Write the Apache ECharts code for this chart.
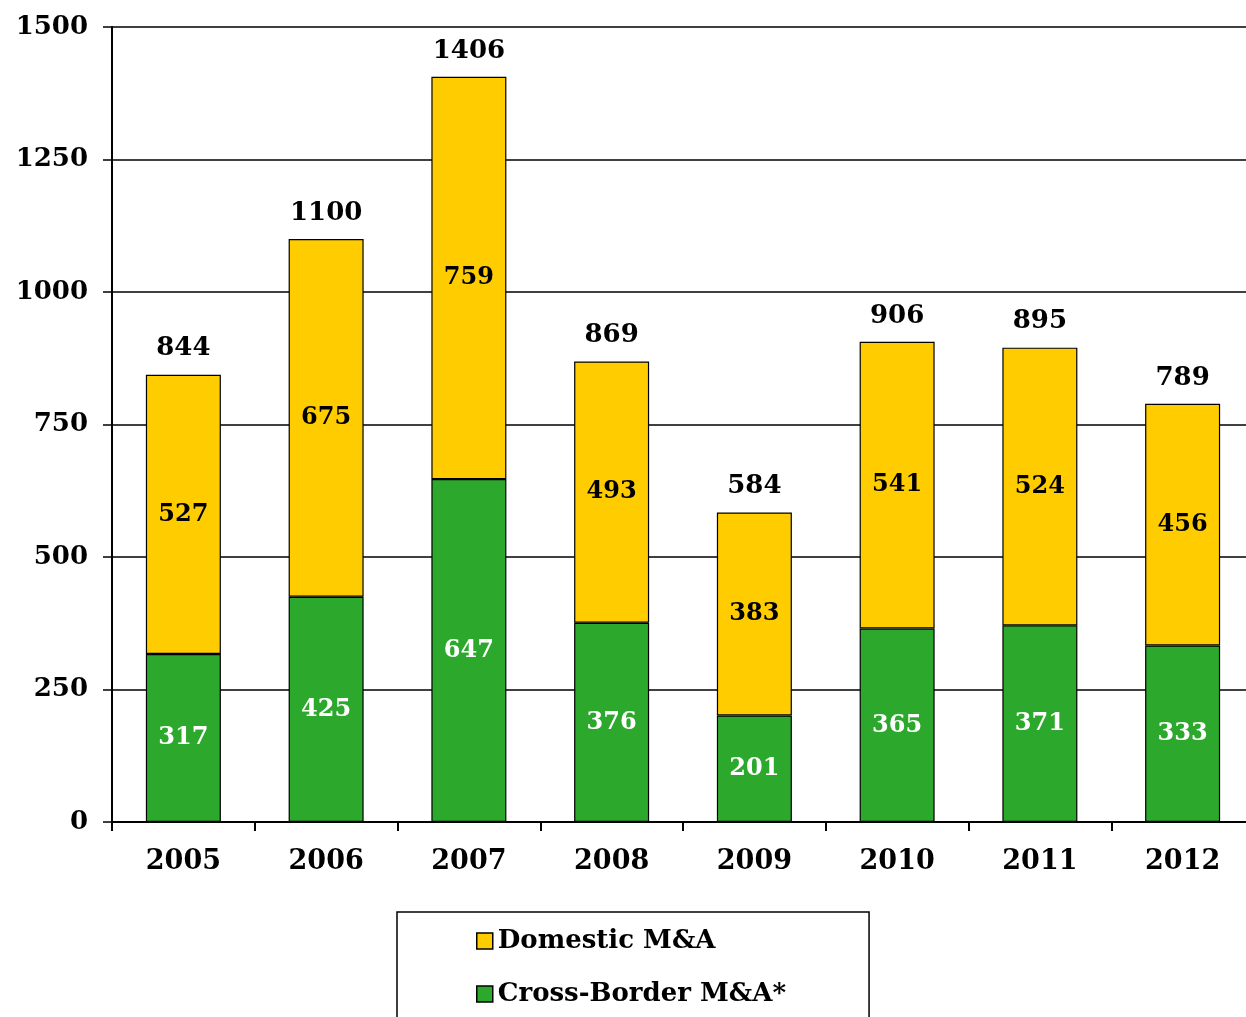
<!DOCTYPE html>
<html>
<head>
<meta charset="utf-8">
<script src="https://cdn.jsdelivr.net/npm/echarts@6/dist/echarts.min.js"></script>
<style>
  html, body { margin: 0; padding: 0; background: #fff; }
  #chart { width: 1246px; height: 1017px; }
</style>
</head>
<body>
<div id="chart"></div>
<script>
// M&A deal counts per year
const years = ['2005', '2006', '2007', '2008', '2009', '2010', '2011', '2012'];
const crossBorder = [317, 425, 647, 376, 201, 365, 371, 333];
const domestic = [527, 675, 759, 493, 383, 541, 524, 456];
const totals = years.map((_, i) => crossBorder[i] + domestic[i]);

const FONT = '"DejaVu Serif", serif';
const chart = echarts.init(document.getElementById('chart'));

chart.setOption({
  animation: false,
  backgroundColor: '#ffffff',
  // plot area runs slightly past the right edge of the canvas
  grid: { left: 112, width: 1142, top: 27, bottom: 195, outerBoundsMode: 'none', containLabel: false },
  legend: {
    orient: 'vertical',
    left: 397,
    top: 912,
    height: 200,
    padding: [14, 83, 30, 79],
    itemGap: 23,
    itemWidth: 16,
    itemHeight: 16,
    icon: 'rect',
    borderColor: '#000',
    borderWidth: 1.5,
    textStyle: { fontFamily: FONT, fontWeight: 'bold', fontSize: 26, color: '#000', lineHeight: 30 },
    data: [
      { name: 'Domestic M&A', itemStyle: { borderColor: '#000', borderWidth: 1.5 } },
      { name: 'Cross-Border M&A*', itemStyle: { borderColor: '#000', borderWidth: 1.5 } }
    ]
  },
  xAxis: {
    type: 'category',
    data: years,
    axisLine: { lineStyle: { color: '#000', width: 2 } },
    axisTick: { show: true, length: 9, lineStyle: { color: '#000', width: 2 } },
    axisLabel: { margin: 26, fontFamily: FONT, fontWeight: 'bold', fontSize: 27, color: '#000' }
  },
  yAxis: {
    type: 'value',
    min: 0,
    max: 1500,
    interval: 250,
    axisLine: { show: true, lineStyle: { color: '#000', width: 2 } },
    axisTick: { show: true, length: 9, lineStyle: { color: '#000', width: 1.5 } },
    axisLabel: {
      margin: 24, fontFamily: FONT, fontWeight: 'bold', fontSize: 26, color: '#000',
      formatter: v => String(v)
    },
    splitLine: { lineStyle: { color: '#000', width: 1.5 } }
  },
  series: [
    {
      name: 'Cross-Border M&A*',
      type: 'bar',
      stack: 'deals',
      barWidth: 75,
      data: crossBorder,
      itemStyle: { color: '#2CA82C', borderColor: '#000', borderWidth: 1.2 },
      label: {
        show: true, position: 'inside',
        fontFamily: FONT, fontWeight: 'bold', fontSize: 24, color: '#fff'
      }
    },
    {
      name: 'Domestic M&A',
      type: 'bar',
      stack: 'deals',
      barWidth: 75,
      data: domestic,
      itemStyle: { color: '#FFCC00', borderColor: '#000', borderWidth: 1.2 },
      label: {
        show: true, position: 'inside',
        fontFamily: FONT, fontWeight: 'bold', fontSize: 24, color: '#000'
      }
    },
    {
      // yearly totals, shown as labels above each stacked bar
      name: 'Total',
      type: 'line',
      data: totals,
      symbol: 'circle',
      symbolSize: 2,
      showSymbol: true,
      itemStyle: { color: 'rgba(0,0,0,0)', borderWidth: 0 },
      lineStyle: { width: 0, color: 'rgba(0,0,0,0)' },
      silent: true,
      label: {
        show: true, position: 'top', distance: 12,
        fontFamily: FONT, fontWeight: 'bold', fontSize: 26, color: '#000'
      },
      z: 5
    }
  ]
});
</script>
</body>
</html>
